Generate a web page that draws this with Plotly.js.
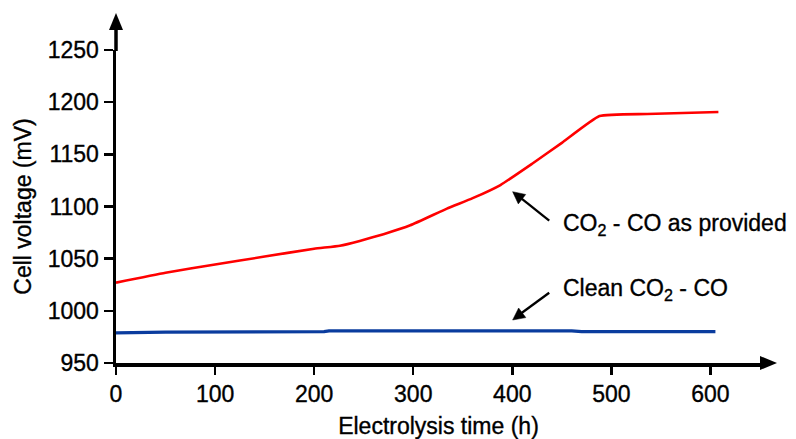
<!DOCTYPE html>
<html>
<head>
<meta charset="utf-8">
<script src="https://cdn.plot.ly/plotly-3.0.1.min.js"></script>
<style>
html,body{margin:0;padding:0;background:#fff;}
#chart svg text{stroke:#000;stroke-width:0.35px;}
</style>
</head>
<body>
<div id="chart" style="width:796px;height:439px;"></div>
<script>
// Data
const timeProvided = [0, 50, 100, 150, 200, 226, 246, 270, 297, 334, 360, 388, 420, 450, 488, 536, 608];
const voltageProvided = [1027, 1036.5, 1044.4, 1052, 1059.5, 1062.4, 1067, 1073.5, 1082, 1098, 1108, 1120.6, 1141, 1161, 1186.7, 1188.7, 1190.6];
const timeClean = [0, 45, 50, 210, 215, 460, 470, 605];
const voltageClean = [978.8, 978.8, 979.5, 980, 980.8, 980.8, 980, 980];
const xTicks = [0, 100, 200, 300, 400, 500, 600];
const yTicks = [950, 1000, 1050, 1100, 1150, 1200, 1250];
const labelProvided = 'CO<sub>2</sub> - CO as provided';
const labelClean = 'Clean CO<sub>2</sub> - CO';
// arrow tips (data coordinates) pointing at each curve
const arrowTipProvided = [400.3, 1114.2];
const arrowTipClean = [400.3, 991.2];
const labelPosProvided = [451, 1082.3];
const labelPosClean = [451, 1020];

const FONT = 'Liberation Sans, Arial, sans-serif';
const FS = 23;

const traces = [
  {x: timeProvided, y: voltageProvided, mode: 'lines', type: 'scatter',
   line: {color: '#ff0000', width: 2.6, shape: 'spline', smoothing: 0.4}, hoverinfo: 'skip'},
  {x: timeClean, y: voltageClean, mode: 'lines', type: 'scatter',
   line: {color: '#0a3c9e', width: 3.2}, hoverinfo: 'skip'}
];

function arrowShapes(tip, headPath, shaftPath) {
  return [
    {type: 'path', xref: 'x', yref: 'y', xsizemode: 'pixel', ysizemode: 'pixel',
     xanchor: tip[0], yanchor: tip[1], path: shaftPath, line: {color: '#000', width: 2.3}},
    {type: 'path', xref: 'x', yref: 'y', xsizemode: 'pixel', ysizemode: 'pixel',
     xanchor: tip[0], yanchor: tip[1], path: headPath, fillcolor: '#000', line: {color: '#000', width: 0.5}}
  ];
}

const layout = {
  width: 796, height: 439,
  margin: {l: 116, r: 35, t: 50, b: 76},
  paper_bgcolor: '#fff', plot_bgcolor: '#fff',
  showlegend: false,
  font: {family: FONT, size: FS, color: '#000'},
  xaxis: {
    range: [0, 651], tickvals: xTicks, ticktext: xTicks.map(String),
    showgrid: false, zeroline: false, showline: true, linecolor: '#000', linewidth: 3.5,
    ticks: 'outside', ticklen: 8, tickwidth: 2.5, tickcolor: '#000',
    tickfont: {family: FONT, size: FS, color: '#000'},
    title: {text: 'Electrolysis time (h)', font: {family: FONT, size: FS, color: '#000'}, standoff: 16},
    automargin: false
  },
  yaxis: {
    range: [950, 1250], tickvals: yTicks, ticktext: yTicks.map(String),
    showgrid: false, zeroline: false, showline: true, linecolor: '#000', linewidth: 3.5,
    ticks: 'outside', ticklen: 9, tickwidth: 2.5, tickcolor: '#000',
    tickfont: {family: FONT, size: FS, color: '#000'},
    title: {text: 'Cell voltage (mV)', font: {family: FONT, size: FS, color: '#000'}, standoff: 10},
    automargin: false
  },
  shapes: [
    // x axis arrowhead
    {type: 'path', xref: 'paper', yref: 'paper', xsizemode: 'pixel', ysizemode: 'pixel',
     xanchor: 1, yanchor: 0, path: 'M -1 -7 L 16 0 L -1 7 Z', fillcolor: '#000', line: {width: 0}},
    // y axis extension above the last tick and its arrowhead
    {type: 'path', xref: 'paper', yref: 'paper', xsizemode: 'pixel', ysizemode: 'pixel',
     xanchor: 0, yanchor: 1, path: 'M 0 -1 L 0 22', line: {color: '#000', width: 3.5}},
    {type: 'path', xref: 'paper', yref: 'paper', xsizemode: 'pixel', ysizemode: 'pixel',
     xanchor: 0, yanchor: 1, path: 'M -7 20 L 0 37 L 7 20 Z', fillcolor: '#000', line: {width: 0}}
  ].concat(
    arrowShapes(arrowTipProvided, 'M 0 0 L 13.1 -2.8 L 5.7 -12.2 Z', 'M 9 -7 L 36.6 -29'),
    arrowShapes(arrowTipClean, 'M 0 0 L 6.0 12.0 L 13.2 2.4 Z', 'M 9 7 L 36.6 27.3')
  ),
  annotations: [
    {x: labelPosProvided[0], y: labelPosProvided[1], xref: 'x', yref: 'y', text: labelProvided, showarrow: false,
     xanchor: 'left', yanchor: 'middle', xshift: -2, font: {family: FONT, size: FS, color: '#000'}},
    {x: labelPosClean[0], y: labelPosClean[1], xref: 'x', yref: 'y', text: labelClean, showarrow: false,
     xanchor: 'left', yanchor: 'middle', xshift: -2, font: {family: FONT, size: FS, color: '#000'}}
  ]
};

Plotly.newPlot('chart', traces, layout, {staticPlot: true, displayModeBar: false});
</script>
</body>
</html>
